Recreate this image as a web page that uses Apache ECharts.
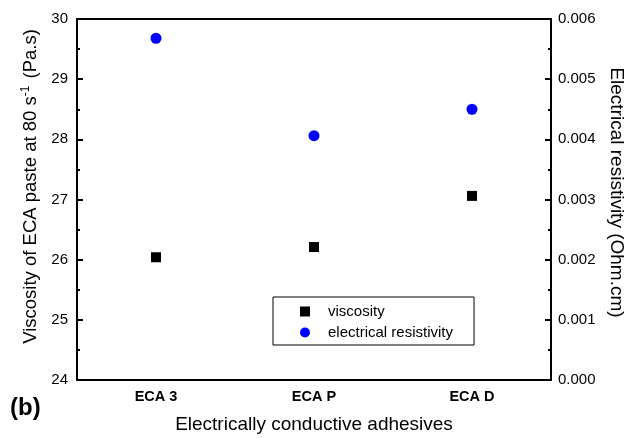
<!DOCTYPE html>
<html>
<head>
<meta charset="utf-8">
<script src="https://cdn.jsdelivr.net/npm/echarts@6/dist/echarts.min.js"></script>
<style>
  html, body { margin: 0; padding: 0; background: #fff; }
  #chart { width: 625px; height: 438px; }
</style>
</head>
<body>
<div id="chart"></div>
<script>
var categories = ['ECA 3', 'ECA P', 'ECA D'];
var viscosity = [26.04, 26.21, 27.06];
var resistivity = [0.00568, 0.00406, 0.0045];

var font = 'Liberation Sans, Arial, sans-serif';
var black = '#000';

var myChart = echarts.init(document.getElementById('chart'));
var option = {
    backgroundColor: '#fff',
    textStyle: { fontFamily: font, color: black },
    grid: { left: 77, right: 74, top: 19, bottom: 58, outerBoundsMode: 'none', containLabel: false },
    legend: {
        orient: 'vertical',
        left: 273,
        top: 297,
        padding: [7, 21, 5, 27],
        borderColor: black,
        borderWidth: 1,
        itemWidth: 10,
        itemHeight: 10,
        itemGap: 6,
        textStyle: { fontFamily: font, fontSize: 15, color: black, padding: [0, 0, 0, 13] },
        data: [
            { name: 'viscosity', icon: 'rect' },
            { name: 'electrical resistivity', icon: 'circle' }
        ]
    },
    xAxis: [
        {
            type: 'category',
            data: categories,
            position: 'bottom',
            name: 'Electrically conductive adhesives',
            nameLocation: 'middle',
            nameGap: 35,
            nameTextStyle: { fontFamily: font, fontSize: 19, color: black },
            axisLine: { lineStyle: { color: black, width: 2 } },
            axisTick: { inside: true, alignWithLabel: true, length: 6, lineStyle: { color: black, width: 2 } },
            axisLabel: { fontFamily: font, fontSize: 14.5, fontWeight: 'bold', color: black, margin: 9 },
            splitLine: { show: false }
        },
        {
            type: 'category',
            data: categories,
            position: 'bottom',
            axisLine: { show: false },
            axisTick: { inside: true, length: 3, lineStyle: { color: black, width: 2 } },
            axisLabel: { show: false },
            splitLine: { show: false }
        },
        {
            type: 'category',
            data: categories,
            position: 'top',
            axisLine: { lineStyle: { color: black, width: 2 } },
            axisTick: { inside: true, alignWithLabel: true, length: 6, lineStyle: { color: black, width: 2 } },
            axisLabel: { show: false },
            splitLine: { show: false }
        },
        {
            type: 'category',
            data: categories,
            position: 'top',
            axisLine: { show: false },
            axisTick: { inside: true, length: 3, lineStyle: { color: black, width: 2 } },
            axisLabel: { show: false },
            splitLine: { show: false }
        }
    ],
    yAxis: [
        {
            type: 'value',
            position: 'left',
            min: 24,
            max: 30,
            interval: 1,
            name: '{a|Viscosity of ECA paste at 80 s}{sup|-1}{a| (Pa.s)}',
            nameLocation: 'middle',
            nameGap: 33,
            nameRotate: 90,
            nameTextStyle: {
                padding: [0, 0, 0, 26],
                rich: {
                    a: { fontFamily: font, fontSize: 18.5, color: black },
                    sup: { fontFamily: font, fontSize: 12, color: black, verticalAlign: 'top', padding: [0, 2, 10, 0] }
                }
            },
            axisLine: { show: true, lineStyle: { color: black, width: 2 } },
            axisTick: { show: true, inside: true, length: 6, lineStyle: { color: black, width: 2 } },
            minorTick: { show: true, splitNumber: 2, length: 3, lineStyle: { color: black, width: 2 } },
            axisLabel: { fontFamily: font, fontSize: 15, color: black, margin: 9 },
            splitLine: { show: false }
        },
        {
            type: 'value',
            position: 'right',
            min: 0,
            max: 0.006,
            interval: 0.001,
            name: 'Electrical resistivity (Ohm.cm)',
            nameLocation: 'middle',
            nameGap: 54,
            nameRotate: -90,
            nameTextStyle: { fontFamily: font, fontSize: 19, color: black, padding: [0, 14, 0, 0] },
            axisLine: { show: true, lineStyle: { color: black, width: 2 } },
            axisTick: { show: true, inside: true, length: 6, lineStyle: { color: black, width: 2 } },
            minorTick: { show: true, splitNumber: 2, length: 3, lineStyle: { color: black, width: 2 } },
            axisLabel: {
                fontFamily: font, fontSize: 15, color: black, margin: 7,
                formatter: function (v) { return v.toFixed(3); }
            },
            splitLine: { show: false }
        }
    ],
    graphic: [
        {
            type: 'text',
            left: 10,
            top: 396,
            style: { text: '(b)', font: 'bold 24px ' + font, fill: black }
        }
    ],
    series: [
        {
            name: 'viscosity',
            type: 'scatter',
            xAxisIndex: 0,
            yAxisIndex: 0,
            symbol: 'rect',
            symbolSize: 10,
            itemStyle: { color: black, opacity: 1 },
            data: viscosity
        },
        {
            name: 'electrical resistivity',
            type: 'scatter',
            xAxisIndex: 0,
            yAxisIndex: 1,
            symbol: 'circle',
            symbolSize: 11,
            itemStyle: { color: '#0000ff', opacity: 1 },
            data: resistivity
        }
    ]
};
myChart.setOption(option);
</script>
</body>
</html>
